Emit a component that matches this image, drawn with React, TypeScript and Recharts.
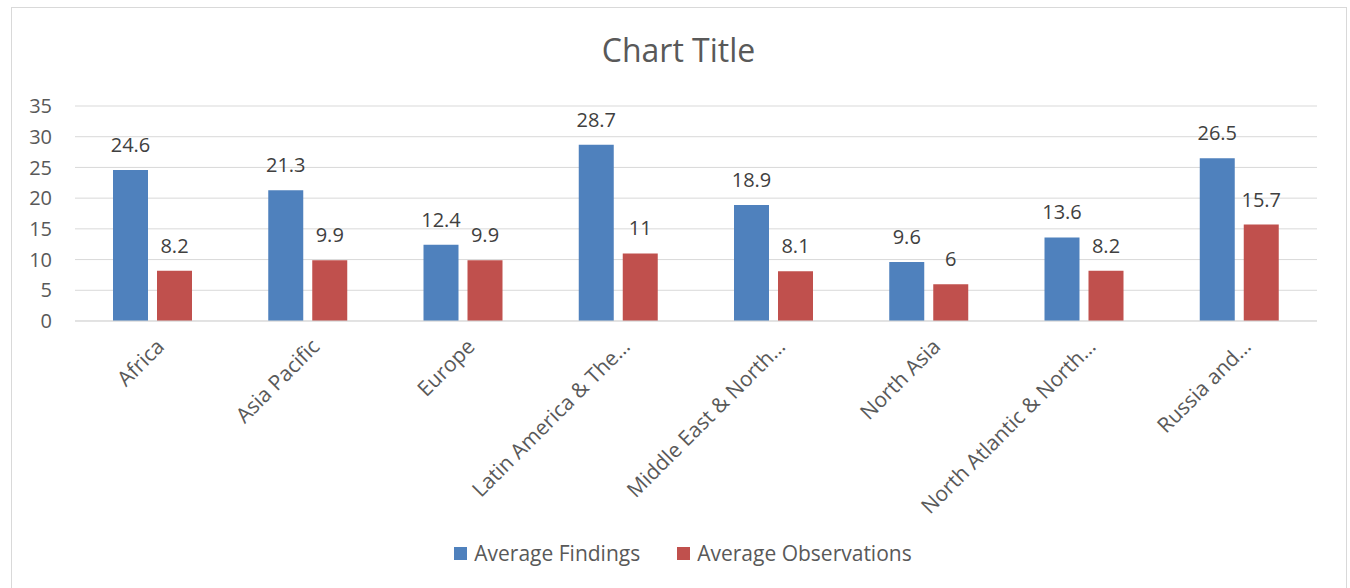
import { BarChart, Bar, XAxis, YAxis, CartesianGrid, Legend, LabelList } from 'recharts'

const regions = [
  'Africa',
  'Asia Pacific',
  'Europe',
  'Latin America & The…',
  'Middle East & North…',
  'North Asia',
  'North Atlantic & North…',
  'Russia and…',
]
const avgFindings = [24.6, 21.3, 12.4, 28.7, 18.9, 9.6, 13.6, 26.5]
const avgObservations = [8.2, 9.9, 9.9, 11, 8.1, 6, 8.2, 15.7]
const yTicks = [0, 5, 10, 15, 20, 25, 30, 35]

const data = regions.map((r, i) => ({ region: r, findings: avgFindings[i], observations: avgObservations[i] }))

const FONT = '"Open Sans", sans-serif'
const AXIS_TEXT = '#595959'
const BLUE = '#4f81bd'
const RED = '#c0504d'

function AngledTick(props: any) {
  const { x, y, payload } = props
  const tx = x + 13
  const ty = y + 19
  return (
    <text x={tx} y={ty} transform={`rotate(-45, ${tx}, ${ty})`} textAnchor="end" fill={AXIS_TEXT} fontSize={21} fontFamily={FONT}>
      {payload.value}
    </text>
  )
}

function LegendBox() {
  const items = [['Average Findings', BLUE], ['Average Observations', RED]]
  return (
    <div style={{ display: 'flex', justifyContent: 'center', gap: '37px', transform: 'translate(17px, 4px)', fontFamily: FONT, fontSize: '21px', color: AXIS_TEXT }}>
      {items.map(([l, c]) => (
        <span key={l} style={{ display: 'flex', alignItems: 'center', gap: '7px' }}>
          <span style={{ width: '13px', height: '13px', background: c, display: 'inline-block' }} />{l}
        </span>
      ))}
    </div>
  )
}

export default function App() {
  return (
    <div style={{ position: 'absolute', left: 0, top: 0, width: '1350px', height: '588px', background: '#fff', overflow: 'hidden' }}>
      {/* chart frame */}
      <div style={{ position: 'absolute', left: '11px', top: '7px', width: '1334px', height: '620px', border: '1px solid #d9d9d9' }} />
      <div style={{ position: 'absolute', left: '11px', width: '1335px', top: '34px', textAlign: 'center', fontFamily: FONT, fontSize: '32px', lineHeight: '32px', color: AXIS_TEXT }}>
        Chart Title
      </div>
      <div style={{ position: 'absolute', left: 0, top: 0 }}>
        <BarChart width={1350} height={588} data={data} margin={{ top: 106, right: 33, left: 15, bottom: 13 }} barSize={35} barGap={9}>
          <CartesianGrid vertical={false} stroke="#d9d9d9" />
          <XAxis dataKey="region" interval={0} height={214} tick={<AngledTick />} tickLine={false} axisLine={{ stroke: '#d9d9d9' }} />
          <YAxis domain={[0, 35]} ticks={yTicks} width={60} tickLine={false} axisLine={false} tickMargin={17}
            tick={{ fill: AXIS_TEXT, fontSize: 20, fontFamily: FONT }} />
          <Legend verticalAlign="bottom" height={40} content={<LegendBox />} />
          <Bar dataKey="findings" name="Average Findings" fill={BLUE} isAnimationActive={false}>
            <LabelList dataKey="findings" position="top" offset={18} fill="#404040" fontSize={20} fontFamily={FONT} />
          </Bar>
          <Bar dataKey="observations" name="Average Observations" fill={RED} isAnimationActive={false}>
            <LabelList dataKey="observations" position="top" offset={18} fill="#404040" fontSize={20} fontFamily={FONT} />
          </Bar>
        </BarChart>
      </div>
    </div>
  )
}
